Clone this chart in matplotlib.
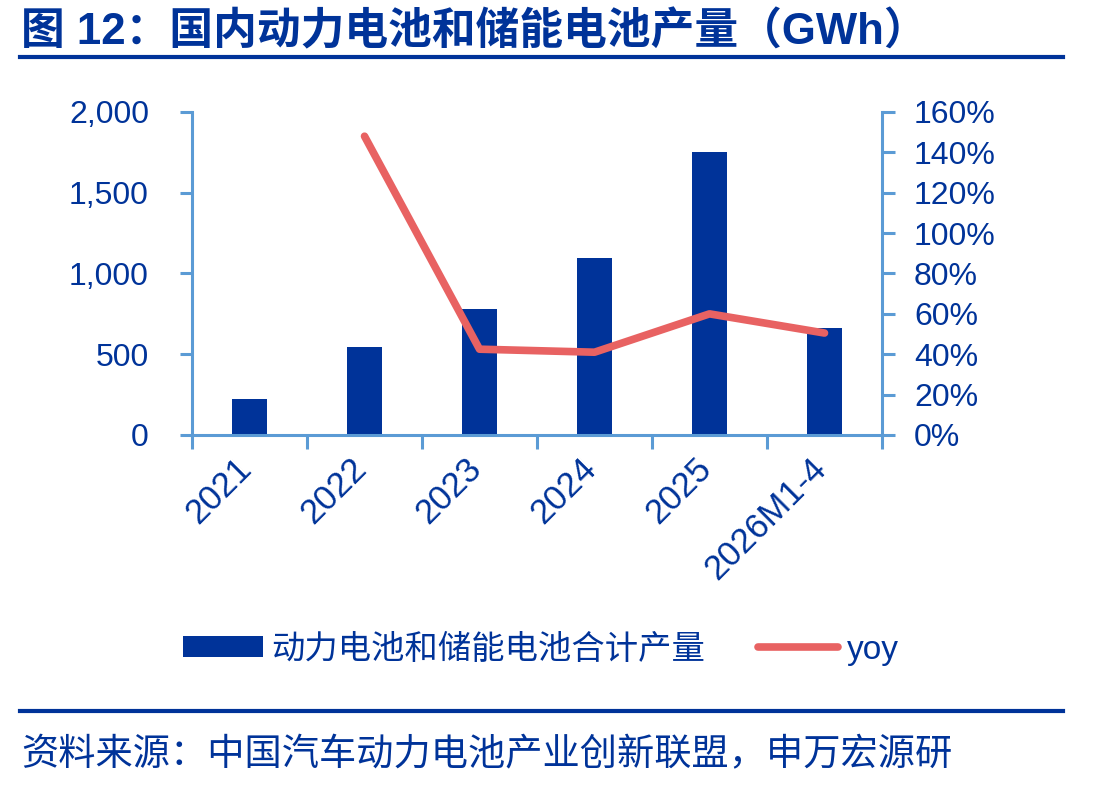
import matplotlib
matplotlib.use("Agg")
import matplotlib.pyplot as plt
from matplotlib.patches import Patch
from matplotlib.lines import Line2D
from matplotlib.ticker import FuncFormatter, FixedLocator
import numpy as np

plt.rcParams['font.family'] = ['Liberation Sans', 'Noto Sans CJK SC', 'DejaVu Sans']

# 数据
categories = ['2021', '2022', '2023', '2024', '2025', '2026M1-4']
output_gwh = [220, 545, 778, 1096, 1755, 665]
yoy = [None, 1.48, 0.425, 0.41, 0.60, 0.505]

BLUE = '#003399'
RED = '#E86262'
AXC = '#5B9BD5'

fig = plt.figure(figsize=(11.1, 7.87), dpi=100)
ax = fig.add_axes([0.173, 0.4473, 0.6216, 0.4104])
ax2 = ax.twinx()

x = np.arange(len(categories))
ax.bar(x, output_gwh, width=0.31, color=BLUE, zorder=2)
yx = [i for i, v in enumerate(yoy) if v is not None]
yv = [v for v in yoy if v is not None]
ax2.plot(yx, yv, color=RED, lw=5.5, solid_capstyle='round', solid_joinstyle='round', zorder=3)

ax.set_xlim(-0.5, len(categories) - 0.5)
ax.set_ylim(0, 2000)
ax2.set_ylim(0, 1.6)
ax.set_yticks(np.arange(0, 2001, 500))
ax2.set_yticks(np.arange(0, 1.61, 0.2))
ax.yaxis.set_major_formatter(FuncFormatter(lambda v, p: f'{int(v):,}'))
ax2.yaxis.set_major_formatter(FuncFormatter(lambda v, p: f'{v*100:.0f}%'))

for a in (ax, ax2):
    for s in a.spines.values():
        s.set_visible(False)
ax.spines['left'].set_visible(True)
ax.spines['bottom'].set_visible(True)
ax2.spines['right'].set_visible(True)
for s in (ax.spines['left'], ax.spines['bottom'], ax2.spines['right']):
    s.set_color(AXC)
    s.set_linewidth(2.2)

ax.tick_params(axis='y', direction='out', length=9, width=2.2, color=AXC,
               labelsize=23, labelcolor=BLUE, pad=22)
ax2.tick_params(axis='y', direction='out', length=9, width=2.2, color=AXC,
                labelsize=23, labelcolor=BLUE, pad=14)
ax.set_xticks(x)
ax.set_xticklabels(categories, rotation=45, ha='right', va='top')
ax.tick_params(axis='x', which='major', length=0, labelsize=25, labelcolor=BLUE, pad=12)
offset = matplotlib.transforms.ScaledTranslation(8 / 100, 0, fig.dpi_scale_trans)
for lbl in ax.get_xticklabels():
    lbl.set_transform(lbl.get_transform() + offset)
ax.xaxis.set_minor_locator(FixedLocator(np.arange(-0.5, len(categories), 1.0)))
ax.tick_params(axis='x', which='minor', direction='out', length=10, width=2.2, color=AXC)

# 图例
handles = [Patch(facecolor=BLUE, edgecolor='none'),
           Line2D([0], [0], color=RED, lw=5.5, solid_capstyle='round')]
labels = ['动力电池和储能电池合计产量', 'yoy']
leg = fig.legend(handles, labels, loc='center', bbox_to_anchor=(0.487, 1 - 650 / 787),
                 ncol=2, frameon=False, fontsize=24, handlelength=2.4, handleheight=0.6,
                 handletextpad=0.25, columnspacing=1.6)
for t in leg.get_texts():
    t.set_color(BLUE)

# 标题与来源
fig.text(0.019, 1 - 32 / 787, '图 12：国内动力电池和储能电池产量（GWh）', fontsize=31.5,
         fontweight='bold', color=BLUE, va='center', ha='left')
fig.add_artist(Line2D([0.018, 0.958], [1 - 57 / 787] * 2, color=BLUE, lw=3))
fig.add_artist(Line2D([0.018, 0.958], [1 - 711 / 787] * 2, color=BLUE, lw=3))
fig.text(0.019, 1 - 756 / 787, '资料来源：中国汽车动力电池产业创新联盟，申万宏源研', fontsize=26.8,
         color=BLUE, va='center', ha='left')

fig.savefig('out.png', dpi=100)
